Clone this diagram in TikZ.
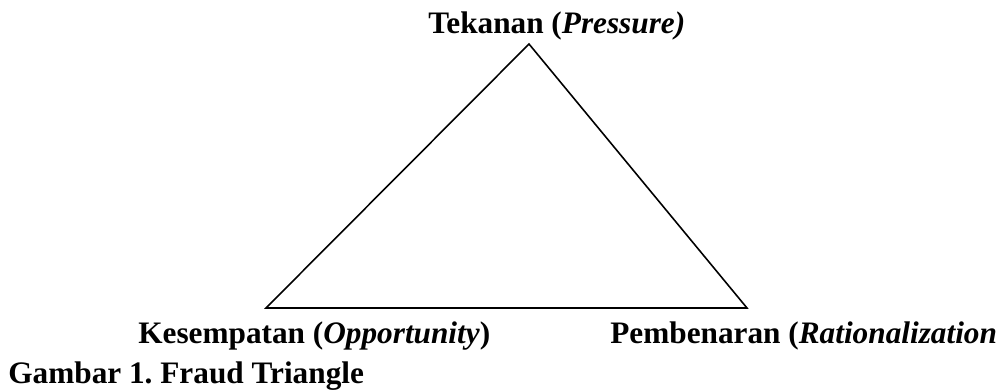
\documentclass[tikz,border=0pt]{standalone}
\usepackage{fontspec}
\setmainfont{Liberation Serif}
\usetikzlibrary{positioning}

\begin{document}
\frenchspacing
\begin{tikzpicture}[
  x=0.02cm,y=-0.02cm,
  font=\fontsize{17.8}{21}\selectfont\bfseries,
  label/.style={anchor=base west,inner sep=0pt},
  sisi/.style={draw=black,line width=0.9pt,line join=miter}
]
  \useasboundingbox (0,0) rectangle (1000,389);
  % sudut segitiga
  \coordinate (puncak) at (529,44);
  \coordinate (kiri) at (266,308);
  \coordinate (kanan) at (747,308);
  \draw[sisi] (puncak) -- (kiri) -- (kanan) -- cycle;

  \node[label] (tekanan) at (428,33) {Tekanan (\textit{Pressure)}};
  \node[label] (kesempatan) at (138,343) {Kesempatan (\textit{Opportunity})};
  \node[label] (pembenaran) at (610,343) {Pembenaran (\textit{Rationalization}};
  \node[label] (judul) at (8,383) {Gambar 1. Fraud Triangle};
\end{tikzpicture}
\end{document}
